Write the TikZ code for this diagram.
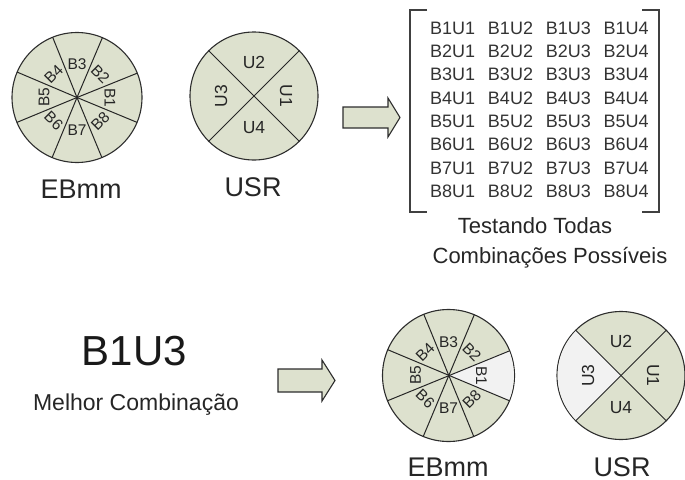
\documentclass[tikz,border=0pt]{standalone}
\usepackage{fontspec}
\setmainfont{Liberation Sans}
\usetikzlibrary{calc}
\definecolor{sect}{RGB}{221,225,206}
\definecolor{hil}{RGB}{242,242,242}
\definecolor{ink}{RGB}{38,38,38}
\definecolor{edge}{RGB}{45,45,45}
\begin{document}
\begin{tikzpicture}[x=1pt,y=1pt,
  wheel/.style={circle, draw=edge, line width=1.1pt, fill=sect, minimum size=#1, inner sep=0pt, outer sep=0pt},
  spoke/.style={draw=black!85, line width=1pt},
  seclab/.style={font=\fontsize{15.5}{15.5}\selectfont, text=ink, inner sep=0pt},
  usrlab/.style={font=\fontsize{17.5}{17.5}\selectfont, text=ink, inner sep=0pt},
  biglab/.style={font=\fontsize{27}{27}\selectfont, text=ink, inner sep=0pt, anchor=base},
  mtx/.style={font=\fontsize{18}{18}\selectfont, text=black!80, inner sep=0pt, anchor=base},
  caption/.style={font=\fontsize{22}{22}\selectfont, text=ink, inner sep=0pt, anchor=base},
  brk/.style={draw=black!75, line width=1.8pt},
  blockarrow/.style={draw=edge, line width=1.1pt, fill=sect, line join=miter}
]
\useasboundingbox (0,0) rectangle (685,-479);

% ---------- top EBmm ----------
\node[wheel=130pt] (e1) at (77,-97.5) {};
\foreach \a in {22.5,67.5,112.5,157.5}
  \draw[spoke] (e1.\a) -- (e1.center) -- ($(e1.center)+(\a+180:65)$);
\foreach \i/\a/\r in {1/0/-90, 2/45/-45, 3/90/0, 4/135/45, 5/180/90, 6/225/-45, 7/270/0, 8/315/45}
  \node[seclab, rotate=\r] (e1b\i) at ($(e1.center)+(\a:33)$) {B\i};
\node[biglab] (e1lab) at (81,-198.7) {EBmm};

% ---------- top USR ----------
\node[wheel=128pt] (u1) at (254,-96) {};
\foreach \a in {45,135}
  \draw[spoke] (u1.\a) -- ($(u1.center)+(\a+180:64)$);
\node[usrlab] (u1u2) at ($(u1.center)+(90:34)$) {U2};
\node[usrlab, rotate=-90] (u1u1) at ($(u1.center)+(0:32)$) {U1};
\node[usrlab, rotate=90] (u1u3) at ($(u1.center)+(180:33)$) {U3};
\node[usrlab] (u1u4) at ($(u1.center)+(270:32)$) {U4};
\node[biglab] (u1lab) at (253,-196) {USR};

% ---------- arrow 1 ----------
\draw[blockarrow] (343,-107) -- (388,-107) -- (388,-98) -- (400,-117.5) -- (388,-137) -- (388,-128) -- (343,-128) -- cycle;

% ---------- matrix ----------
\coordinate (bl1) at (410,-10);
\coordinate (bl2) at (410,-212);
\coordinate (br1) at (659,-10);
\coordinate (br2) at (659,-212);
\draw[brk] ($(bl1)+(17,0)$) -- (bl1) -- (bl2) -- ($(bl2)+(17,0)$);
\draw[brk] ($(br1)+(-17,0)$) -- (br1) -- (br2) -- ($(br2)+(-17,0)$);
\foreach \r in {1,...,8}
  \foreach \c in {1,...,4}
    \node[mtx] (m\r\c) at ({452.7+57.8*(\c-1)},{-34.3-23.3*(\r-1)}) {B\r U\c};
\node[caption] (cap1) at (535,-233) {Testando Todas};
\node[caption] (cap2) at (550,-263) {Combinações Possíveis};

% ---------- bottom left text ----------
\node[font=\fontsize{42}{42}\selectfont, text=black!90, inner sep=0pt, anchor=base] (best) at (134.5,-365) {B1U3};
\node[font=\fontsize{23}{23}\selectfont, text=ink, inner sep=0pt, anchor=base] (bestlab) at (136,-410) {Melhor Combinação};

% ---------- arrow 2 ----------
\draw[blockarrow] (278,-369) -- (322,-369) -- (322,-360) -- (335,-380.5) -- (322,-401) -- (322,-392) -- (278,-392) -- cycle;

% ---------- bottom EBmm ----------
\node[wheel=132pt] (e2) at (448.5,-375.5) {};
\fill[hil] (e2.center) -- ($(e2.center)+(-22.5:65.4)$) arc[start angle=-22.5, end angle=22.5, radius=65.4] -- cycle;
\foreach \a in {22.5,67.5,112.5,157.5}
  \draw[spoke] (e2.\a) -- ($(e2.center)+(\a+180:66)$);
\foreach \i/\a/\r in {1/0/-90, 2/45/-45, 3/90/0, 4/135/45, 5/180/90, 6/225/-45, 7/270/0, 8/315/45}
  \node[seclab, rotate=\r] (e2b\i) at ($(e2.center)+(\a:33)$) {B\i};
\node[biglab] (e2lab) at (448,-476) {EBmm};

% ---------- bottom USR ----------
\node[wheel=128pt] (u2) at (621,-375.5) {};
\fill[hil] (u2.center) -- ($(u2.center)+(135:63.4)$) arc[start angle=135, end angle=225, radius=63.4] -- cycle;
\foreach \a in {45,135}
  \draw[spoke] (u2.\a) -- ($(u2.center)+(\a+180:64)$);
\node[usrlab] (u2u2) at ($(u2.center)+(90:34)$) {U2};
\node[usrlab, rotate=-90] (u2u1) at ($(u2.center)+(0:32)$) {U1};
\node[usrlab, rotate=90] (u2u3) at ($(u2.center)+(180:33)$) {U3};
\node[usrlab] (u2u4) at ($(u2.center)+(270:32)$) {U4};
\node[biglab] (u2lab) at (622,-476) {USR};
\end{tikzpicture}
\end{document}
